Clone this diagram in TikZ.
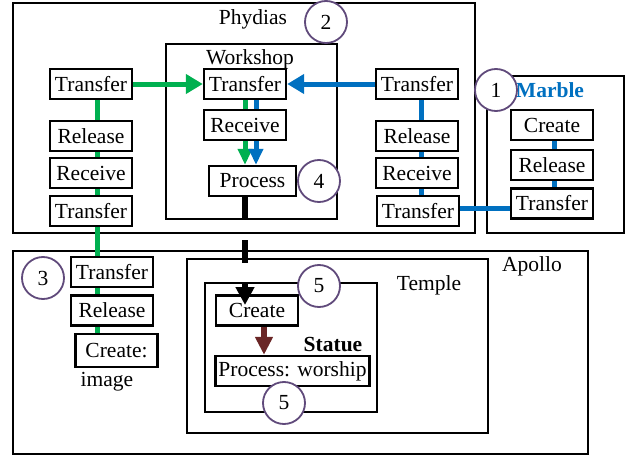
\documentclass[tikz,border=0pt]{standalone}
\usepackage{fontspec}
\setmainfont{Liberation Serif}
\usepackage{tikz}
\usetikzlibrary{arrows.meta}
\definecolor{flowgreen}{RGB}{0,176,80}
\definecolor{flowblue}{RGB}{0,112,192}
\definecolor{stagepurple}{RGB}{96,74,123}
\definecolor{statuered}{RGB}{106,38,38}
\pgfdeclarelayer{framelayer}
\pgfdeclarelayer{edgelayer}
\pgfdeclarelayer{nodelayer}
\pgfsetlayers{framelayer,edgelayer,nodelayer,main}
\tikzstyle{none}=[inner sep=0pt,anchor=base]
\tikzstyle{frame}=[rectangle,draw=black,line width=1.5pt,inner sep=0pt]
\tikzstyle{act}=[rectangle,fill=white,draw=black,line width=2.4pt,minimum width=82pt,minimum height=30pt,inner sep=3pt]
\tikzstyle{stage}=[circle,fill=white,draw=stagepurple,line width=1.8pt,minimum size=42pt,inner sep=0pt]
\tikzstyle{greenflow}=[-,draw=flowgreen,line width=5pt]
\tikzstyle{blueflow}=[-,draw=flowblue,line width=5pt]
\tikzstyle{greenmove}=[-{Triangle[length=17pt,width=19pt]},draw=flowgreen,line width=5pt]
\tikzstyle{bluemove}=[-{Triangle[length=17pt,width=19pt]},draw=flowblue,line width=5pt]
\tikzstyle{greenin}=[-{Triangle[length=16pt,width=14pt]},draw=flowgreen,line width=5pt]
\tikzstyle{bluein}=[-{Triangle[length=16pt,width=14pt]},draw=flowblue,line width=5pt]
\tikzstyle{handover}=[-{Triangle[length=18pt,width=18pt]},draw=black,line width=5.5pt,dash pattern=on 23pt off 20pt]
\tikzstyle{worship}=[-{Triangle[length=18pt,width=17pt]},draw=statuered,line width=6pt]

\begin{document}
\begin{tikzpicture}[x=1pt,y=-1pt,font=\fontsize{21.5pt}{24pt}\selectfont]
	\useasboundingbox (0,0) rectangle (633,455);
	\begin{pgfonlayer}{framelayer}
		\node [style=frame, minimum width=462pt, minimum height=230pt] (0) at (244, 118) {};
		\node [style=frame, minimum width=171pt, minimum height=175pt] (1) at (251.5, 131.5) {};
		\node [style=frame, minimum width=137pt, minimum height=157pt] (2) at (555.5, 154.5) {};
		\node [style=frame, minimum width=575pt, minimum height=203pt] (3) at (300.5, 352.5) {};
		\node [style=frame, minimum width=301pt, minimum height=174pt] (4) at (337.5, 346) {};
		\node [style=frame, minimum width=172pt, minimum height=129pt] (5) at (291, 347.5) {};
		\node [style=none] (6) at (253, 24) {Phydias};
		\node [style=none] (7) at (250, 64) {Workshop};
		\node [style=none, text=flowblue] (8) at (550, 97) {\bfseries Marble};
		\node [style=none] (9) at (532, 271) {Apollo};
		\node [style=none] (10) at (429, 290) {Temple};
		\node [style=none] (11) at (333, 351) {\bfseries Statue};
		\node [style=none] (12) at (107, 386) {image};
	\end{pgfonlayer}
	\begin{pgfonlayer}{nodelayer}
		\node [style=act] (13) at (91, 84) {Transfer};
		\node [style=act] (14) at (91, 136) {Release};
		\node [style=act] (15) at (91, 173) {Receive};
		\node [style=act] (16) at (91, 211) {Transfer};
		\node [style=act] (17) at (245, 84) {Transfer};
		\node [style=act] (18) at (245, 125) {Receive};
		\node [style=act, minimum width=87pt] (19) at (252.5, 181) {Process};
		\node [style=act] (20) at (417, 84) {Transfer};
		\node [style=act] (21) at (417, 136) {Release};
		\node [style=act] (22) at (417, 173) {Receive};
		\node [style=act] (23) at (418, 211) {Transfer};
		\node [style=act] (24) at (552, 125) {Create};
		\node [style=act] (25) at (552, 165) {Release};
		\node [style=act] (26) at (552, 203.5) {Transfer};
		\node [style=act] (27) at (112, 272) {Transfer};
		\node [style=act] (28) at (112, 310.5) {Release};
		\node [style=act, minimum height=33pt] (29) at (116.5, 350.5) {Create:};
		\node [style=act] (30) at (257, 310.5) {Create};
		\node [style=act] (31) at (292.5, 371) {Process: worship};
		\node [style=stage] (32) at (326, 22) {2};
		\node [style=stage] (33) at (496, 90) {1};
		\node [style=stage] (34) at (319, 181) {4};
		\node [style=stage] (35) at (43, 278) {3};
		\node [style=stage] (36) at (319, 286) {5};
		\node [style=stage] (37) at (284, 403) {5};
	\end{pgfonlayer}
	\begin{pgfonlayer}{edgelayer}
		\draw [style=greenmove] (13) to (17);
		\draw [style=bluemove] (20) to (17);
		\draw [style=greenflow] ([xshift=6pt]13.south) to ([xshift=6pt]13.south |- 29.north);
		\draw [style=greenin] (17.south) to (17.south |- 19.north);
		\draw [style=bluein] ([xshift=11pt]17.south) to ([xshift=11pt]17.south |- 19.north);
		\draw [style=blueflow] ([xshift=4pt]20.south) to ([xshift=4pt]20.south |- 23.north);
		\draw [style=blueflow] ([xshift=2pt]24.center) to ([xshift=2pt]26.center);
		\draw [style=blueflow] ([yshift=3pt]23.east) to ([yshift=3pt]23.east -| 26.west);
		\draw [style=worship] ([xshift=7pt]30.south) to ([xshift=7pt]30.south |- 31.north);
	\end{pgfonlayer}
	\draw [style=handover, shorten >=5.5pt] ([xshift=-7.5pt]19.south) to ([xshift=-7.5pt]19.south |- 30.center);
\end{tikzpicture}
\end{document}
